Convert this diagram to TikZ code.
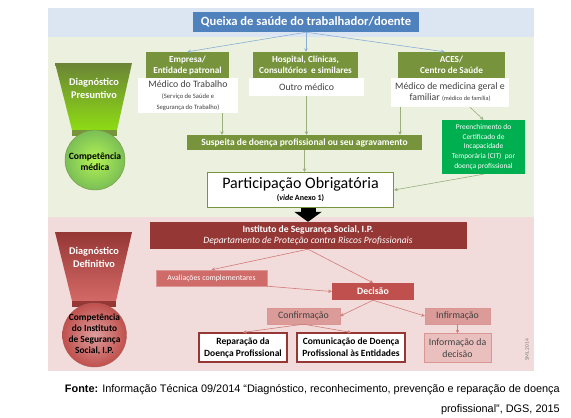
\documentclass[tikz,border=0pt]{standalone}
\usepackage{fontspec}
\setmainfont{Carlito}
\newfontfamily\capfont{Liberation Sans}
\usetikzlibrary{arrows.meta}
\definecolor{bandblue}{HTML}{DCE6F2}
\definecolor{bandgreen}{HTML}{EBF1DE}
\definecolor{bandpink}{HTML}{F2DCDB}
\definecolor{titleblue}{HTML}{4F81BD}
\definecolor{olive}{HTML}{77933C}
\definecolor{citgreen}{HTML}{00B050}
\definecolor{darkred}{HTML}{953735}
\definecolor{midred}{HTML}{C0504D}
\definecolor{avalred}{HTML}{CF6B69}
\definecolor{confpink}{HTML}{DA9B99}
\definecolor{infopink}{HTML}{EAC0BF}
\definecolor{pinkedge}{HTML}{D99694}
\definecolor{greytext}{HTML}{404040}
\definecolor{arrblue}{HTML}{8AAED9}
\definecolor{arrgreen}{HTML}{9AAE7E}
\definecolor{arrred}{HTML}{D17A78}
\newcommand\fsz[2]{\fontsize{#1}{#2}\selectfont}
\begin{document}
\begin{tikzpicture}[x=1pt,y=-1pt,
  rect/.style={rectangle, inner sep=0pt, align=center},
  hdr/.style={rect, fill=olive, text=white, font=\bfseries\fsz{9.2}{11}},
  wbox/.style={rect, fill=white, text=greytext, font=\fsz{9.8}{11}},
  barr/.style={draw=arrblue, line width=0.6pt, -{Stealth[length=3.5pt,width=3.5pt]}},
  garr/.style={draw=arrgreen, line width=0.6pt, -{Stealth[length=3.5pt,width=3.5pt]}},
  rarr/.style={draw=arrred, line width=0.6pt, -{Stealth[length=3.5pt,width=3.5pt]}},
  lbl/.style={align=center, inner sep=0pt}]
\useasboundingbox (0,0) rectangle (571,418);
% bands
\fill[bandblue] (48,8) rectangle (534,37);
\fill[bandgreen] (48,37) rectangle (534,217);
\fill[bandpink] (48,217) rectangle (534,371);
% left green medallion
\shade[top color=olive!90!black, bottom color=olive!55!green!60!yellow] (55,63) -- (132,63) -- (117,130) -- (72,130) -- cycle;
\fill[olive] (72,130) rectangle (117,136);
\shadedraw[inner color=olive!30!green!50!yellow!70, outer color=olive!75!green!80, draw=olive] (95,160) circle (30);
\node[lbl, text=white, font=\bfseries\fsz{10.3}{13}] (dp) at (94,88) {Diagnóstico\\Presuntivo};
\node[lbl, font=\bfseries\fsz{9.6}{11.5}] (cm) at (95,161.5) {Competência\\médica};
% left red medallion
\shade[top color=darkred, bottom color=midred!85!red!80!white] (55,232) -- (132,232) -- (116,301) -- (72,301) -- cycle;
\fill[darkred] (72,301) rectangle (116,307);
\shadedraw[inner color=midred!55!white, outer color=midred, draw=darkred!80] (94.5,335) circle (32);
\node[lbl, text=white, font=\bfseries\fsz{10.3}{12.5}] (dd) at (94,257.5) {Diagnóstico\\Definitivo};
\node[lbl, font=\bfseries\fsz{9.4}{11}] (ci) at (94.5,334) {Competência\\do Instituto\\de Segurança\\Social, I.P.};
% top part
\node[rect, fill=titleblue, text=white, minimum width=226, minimum height=20, font=\bfseries\fsz{12.6}{14}] (title) at (306,22) {Queixa de saúde do trabalhador/doente};
\node[hdr, minimum width=83, minimum height=26] (emp) at (187.5,65) {Empresa/\\Entidade patronal};
\node[wbox, minimum width=100, minimum height=35] (empw) at (188,95.5) {Médico do Trabalho\\[-0.5pt]\fsz{6.6}{8}(Serviço de Saúde e\\\fsz{6.6}{8}Segurança do Trabalho)};
\node[hdr, minimum width=105, minimum height=26] (hosp) at (305.5,65) {Hospital, Clínicas,\\Consultórios \ e similares};
\node[wbox, minimum width=115, minimum height=18] (hospw) at (306.5,87) {Outro médico};
\node[hdr, minimum width=107, minimum height=26] (aces) at (451.5,65) {ACES/\\Centro de Saúde};
\node[wbox, minimum width=118, minimum height=29] (acesw) at (450,92.5) {Médico de medicina geral e\\familiar {\fsz{6.2}{7}(médico de família)}};
\node[rect, fill=citgreen, text=white, minimum width=83, minimum height=54, font=\fsz{7.4}{9.6}] (cit) at (483.5,147) {Preenchimento do\\Certificado de\\Incapacidade\\Temporária (CIT) \ por\\doença profissional};
\node[hdr, minimum width=235, minimum height=15, font=\bfseries\fsz{9.5}{10}] (susp) at (304.5,142.5) {Suspeita de doença profissional ou seu agravamento};
\node[rect, fill=white, draw=olive, line width=1.2pt, minimum width=186, minimum height=35] (part) at (300.5,190) {\fsz{16}{16}Participação Obrigatória\\[0pt]\fsz{8}{8}\bfseries(\textit{vide} Anexo 1)};
% bottom part
\node[rect, fill=darkred, text=white, minimum width=317, minimum height=27, font=\fsz{9.6}{11.5}] (inst) at (308,235.5) {\textbf{Instituto de Segurança Social, I.P.}\\\textit{Departamento de Proteção contra Riscos Profissionais}};
\node[rect, fill=avalred, draw=midred!60!white, line width=0.4pt, text=white, minimum width=111, minimum height=16, font=\fsz{7.8}{9}] (aval) at (211.5,278) {Avaliações complementares};
\node[rect, fill=midred, text=white, minimum width=82, minimum height=17, font=\bfseries\fsz{9.8}{11}] (dec) at (373,291.5) {Decisão};
\node[rect, fill=confpink, draw=pinkedge, line width=0.4pt, text=greytext, minimum width=73, minimum height=16, font=\fsz{9.8}{11}] (conf) at (303.5,316) {Confirmação};
\node[rect, fill=confpink, draw=pinkedge, line width=0.4pt, text=greytext, minimum width=65, minimum height=16, font=\fsz{9.8}{11}] (infirm) at (457.5,316) {Infirmação};
\node[rect, fill=white, draw=darkred, line width=1.2pt, minimum width=88, minimum height=29, font=\bfseries\fsz{9.5}{12}] (rep) at (243,347.5) {Reparação da\\Doença Profissional};
\node[rect, fill=white, draw=darkred, line width=1.2pt, minimum width=108, minimum height=29, font=\bfseries\fsz{9.5}{12}] (com) at (351,347.5) {Comunicação de Doença\\Profissional às Entidades};
\node[rect, fill=infopink, draw=pinkedge, line width=0.4pt, text=greytext, minimum width=67, minimum height=29, font=\fsz{9.8}{12}] (info) at (457.5,348) {Informação da\\decisão};
\node[rotate=90, inner sep=0pt, text=gray, font=\fsz{5.5}{6}] (sml) at (527,350) {SML 2014};
% caption
\node[align=right, anchor=north east, inner sep=0pt, font=\capfont\fsz{10.9}{20}] (cap) at (560,384) {\textbf{Fonte:} Informação Técnica 09/2014 “Diagnóstico, reconhecimento, prevenção e reparação de doença\\profissional”, DGS, 2015};
% connectors
\draw[barr] (title.south) -- (emp.north);
\draw[barr] (title.south) -- (title.south |- hosp.north);
\draw[barr] (title.south) -- ([xshift=-7]aces.north);
\draw[garr] ([xshift=34]empw.south) -- ([xshift=34]empw.south |- susp.north);
\draw[garr] (hospw.south) -- (hospw.south |- susp.north);
\draw[garr] ([xshift=-50]acesw.south) -- ([xshift=-50]acesw.south |- susp.north);
\draw[garr] ([xshift=20]acesw.south) -- (cit.north);
\draw[garr] (cit.south) -- (part.east);
\draw[garr] (susp.south) -- (susp.south |- part.north);
\draw[black, line width=15pt, -{Triangle[length=10pt,width=27pt]}] (inst.north |- part.south) -- (inst.north);
\draw[rarr] (inst.south) -- (aval.north);
\draw[rarr] (inst.south) -- (dec.north);
\draw[rarr] (aval.south east) -- (dec.west);
\draw[rarr] (dec.south) -- (conf.east);
\draw[rarr] (dec.south) -- (infirm.west);
\draw[rarr] (conf.south) -- (rep.north);
\draw[rarr] (conf.south) -- (com.north);
\draw[rarr] (infirm.south) -- (info.north);
\end{tikzpicture}
\end{document}
